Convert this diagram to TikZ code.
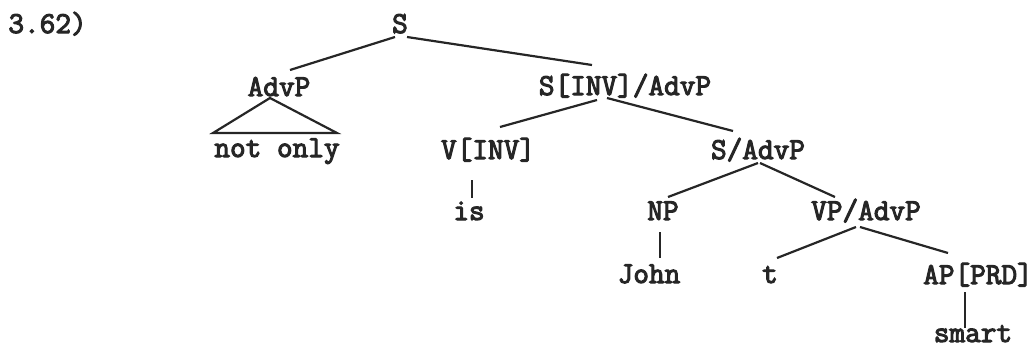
\documentclass[tikz,border=0pt]{standalone}
\usepackage{fontspec}
\newfontfamily\tw{Latin Modern Mono}[FakeBold=3.5]
\usepackage{tikz}
\begin{document}
\begin{tikzpicture}[x=0.5pt,y=-0.5pt,
  cat/.style={font=\tw\fontsize{15.2}{18}\selectfont,text=black!85,inner sep=0pt,anchor=base},
  br/.style={line width=1.1pt,black!85}]
\useasboundingbox (0,0) rectangle (1033,348);
% labels
\node[cat,anchor=base west] (num) at (8,33) {3.62)};
\node[cat] (s) at (400,33) {S};
\node[cat] (advp) at (279,96) {AdvP};
\node[cat] (sinv) at (625,95) {S[INV]/AdvP};
\node[cat] (notonly) at (277,157) {not only};
\node[cat] (vinv) at (488,159) {V[INV]};
\node[cat] (sadv) at (758,159) {S/AdvP};
\node[cat] (is) at (469,220) {is};
\node[cat] (np) at (663,220) {NP};
\node[cat] (vpadv) at (866,220) {VP/AdvP};
\node[cat] (john) at (649,283) {John};
\node[cat] (t) at (770,283) {t};
\node[cat] (ap) at (978,284) {AP[PRD]};
\node[cat] (smart) at (973,342) {smart};
% branches
\draw[br] ([shift={(-5,4)}]s.base)--([shift={(11,-26)}]advp.base);
\draw[br] ([shift={(7,4)}]s.base)--([shift={(-33,-30)}]sinv.base);
\draw[br] ([shift={(-9,2)}]advp.base)--([shift={(-64,-24)}]notonly.base)
  --([shift={(60,-24)}]notonly.base)--cycle;
\draw[br] ([shift={(-28,5)}]sinv.base)--([shift={(12,-32)}]vinv.base);
\draw[br] ([shift={(-18,3)}]sinv.base)--([shift={(-25,-28)}]sadv.base);
\draw[br] ([shift={(-16,21)}]vinv.base)--([shift={(3,-22)}]is.base);
\draw[br] ([shift={(0,4)}]sadv.base)--([shift={(5,-23)}]np.base);
\draw[br] ([shift={(2,4)}]sadv.base)--([shift={(-31,-23)}]vpadv.base);
\draw[br] ([shift={(-3,12)}]np.base)--([shift={(11,-25)}]john.base);
\draw[br] ([shift={(-10,7)}]vpadv.base)--([shift={(7,-25)}]t.base);
\draw[br] ([shift={(-6,7)}]vpadv.base)--([shift={(-30,-31)}]ap.base);
\draw[br] ([shift={(-13,8)}]ap.base)--([shift={(-8,-14)}]smart.base);
\end{tikzpicture}
\end{document}
